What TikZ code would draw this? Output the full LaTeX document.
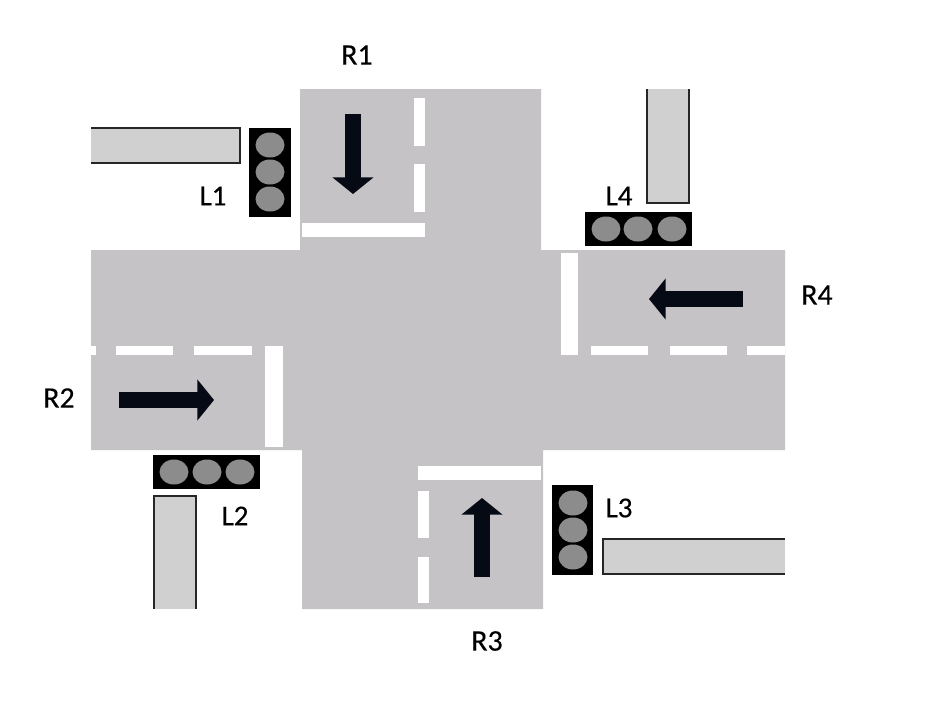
\documentclass[tikz,border=0pt]{standalone}
\usepackage{fontspec}
\setmainfont{Carlito}
\newfontfamily\signfont{Carlito}[FakeBold=0.3]
\usepackage{xcolor}
\usetikzlibrary{arrows.meta}
\definecolor{roadgray}{HTML}{C5C3C6}
\definecolor{barfill}{HTML}{D0D0D0}
\definecolor{lampgray}{HTML}{8C8C8C}
\definecolor{arrowdark}{HTML}{050A14}

\begin{document}
\begin{tikzpicture}[
  x=0.02cm,y=-0.02cm,
  road/.style={fill=roadgray},
  stripe/.style={fill=white},
  bar/.style={fill=barfill},
  baredge/.style={draw=black!85,line width=1.2pt},
  signal/.style={fill=black},
  lamp/.style={fill=lampgray},
  lane/.style={draw=arrowdark,line width=9.6pt,-{Triangle[length=9.5pt,width=23pt]}},
  roadlabel/.style={font=\signfont\fontsize{17}{20}\selectfont},
  lamplabel/.style={font=\signfont\fontsize{16.5}{20}\selectfont}]

  \useasboundingbox (0,0) rectangle (936,700);

  % Road surface
  \fill[road] (300,89)--(541,89)--(541,250)--(785,250)--(785,450)--(543,450)
    --(543,609)--(302,609)--(302,450)--(91,450)--(91,250)--(300,250)--cycle;

  % Stop lines
  \fill[stripe] (302,223) rectangle (425,237);
  \fill[stripe] (561,253) rectangle (578,355);
  \fill[stripe] (265,346) rectangle (283,447);
  \fill[stripe] (418,466) rectangle (541,480);

  % Lane dashes
  \foreach \ya/\yb in {98/146,164/212}
    \fill[stripe] (414,\ya) rectangle (425,\yb);
  \foreach \ya/\yb in {491/538,557/603}
    \fill[stripe] (418,\ya) rectangle (429,\yb);
  \foreach \xa/\xb in {91/96,116/173,194/252}
    \fill[stripe] (\xa,346) rectangle (\xb,355);
  \foreach \xa/\xb in {591/648,670/727,747/785}
    \fill[stripe] (\xa,346) rectangle (\xb,355);

  % Driving directions
  \draw[lane] (353,114)--(353,194);
  \draw[lane] (119,400)--(214,400);
  \draw[lane] (482,577)--(482,498);
  \draw[lane] (743,299)--(649,299);

  % Bars
  \fill[bar] (91,128) rectangle (240,163);
  \draw[baredge] (91,128)--(240,128)--(240,163)--(91,163);
  \fill[bar] (647,89) rectangle (689,203);
  \draw[baredge] (647,89)--(647,203)--(689,203)--(689,89);
  \fill[bar] (154,609) rectangle (196,496);
  \draw[baredge] (154,609)--(154,496)--(196,496)--(196,609);
  \fill[bar] (785,539) rectangle (603,574);
  \draw[baredge] (785,539)--(603,539)--(603,574)--(785,574);

  % Traffic lights
  \fill[signal] (249,128) rectangle (291,217);
  \foreach \y in {145,172,199}
    \fill[lamp] (270,\y) ellipse [x radius=14.5,y radius=12.5];
  \fill[signal] (552,485) rectangle (593,575);
  \foreach \y in {503,530,557}
    \fill[lamp] (573,\y) ellipse [x radius=14.5,y radius=12.5];
  \fill[signal] (153,455) rectangle (260,489);
  \foreach \x in {174,207,240}
    \fill[lamp] (\x,472) ellipse [x radius=14.5,y radius=12.5];
  \fill[signal] (585,212) rectangle (692,246);
  \foreach \x in {606,638,672}
    \fill[lamp] (\x,229) ellipse [x radius=14.5,y radius=12.5];

  % Labels
  \node[roadlabel] (r1) at (357,55)  {R1};
  \node[roadlabel] (r2) at (59,398)  {R2};
  \node[roadlabel] (r3) at (487,641) {R3};
  \node[roadlabel] (r4) at (817,295) {R4};
  \node[lamplabel] (l1) at (213,196) {L1};
  \node[lamplabel] (l2) at (235,516) {L2};
  \node[lamplabel] (l3) at (619,508) {L3};
  \node[lamplabel] (l4) at (619,196) {L4};
\end{tikzpicture}
\end{document}
